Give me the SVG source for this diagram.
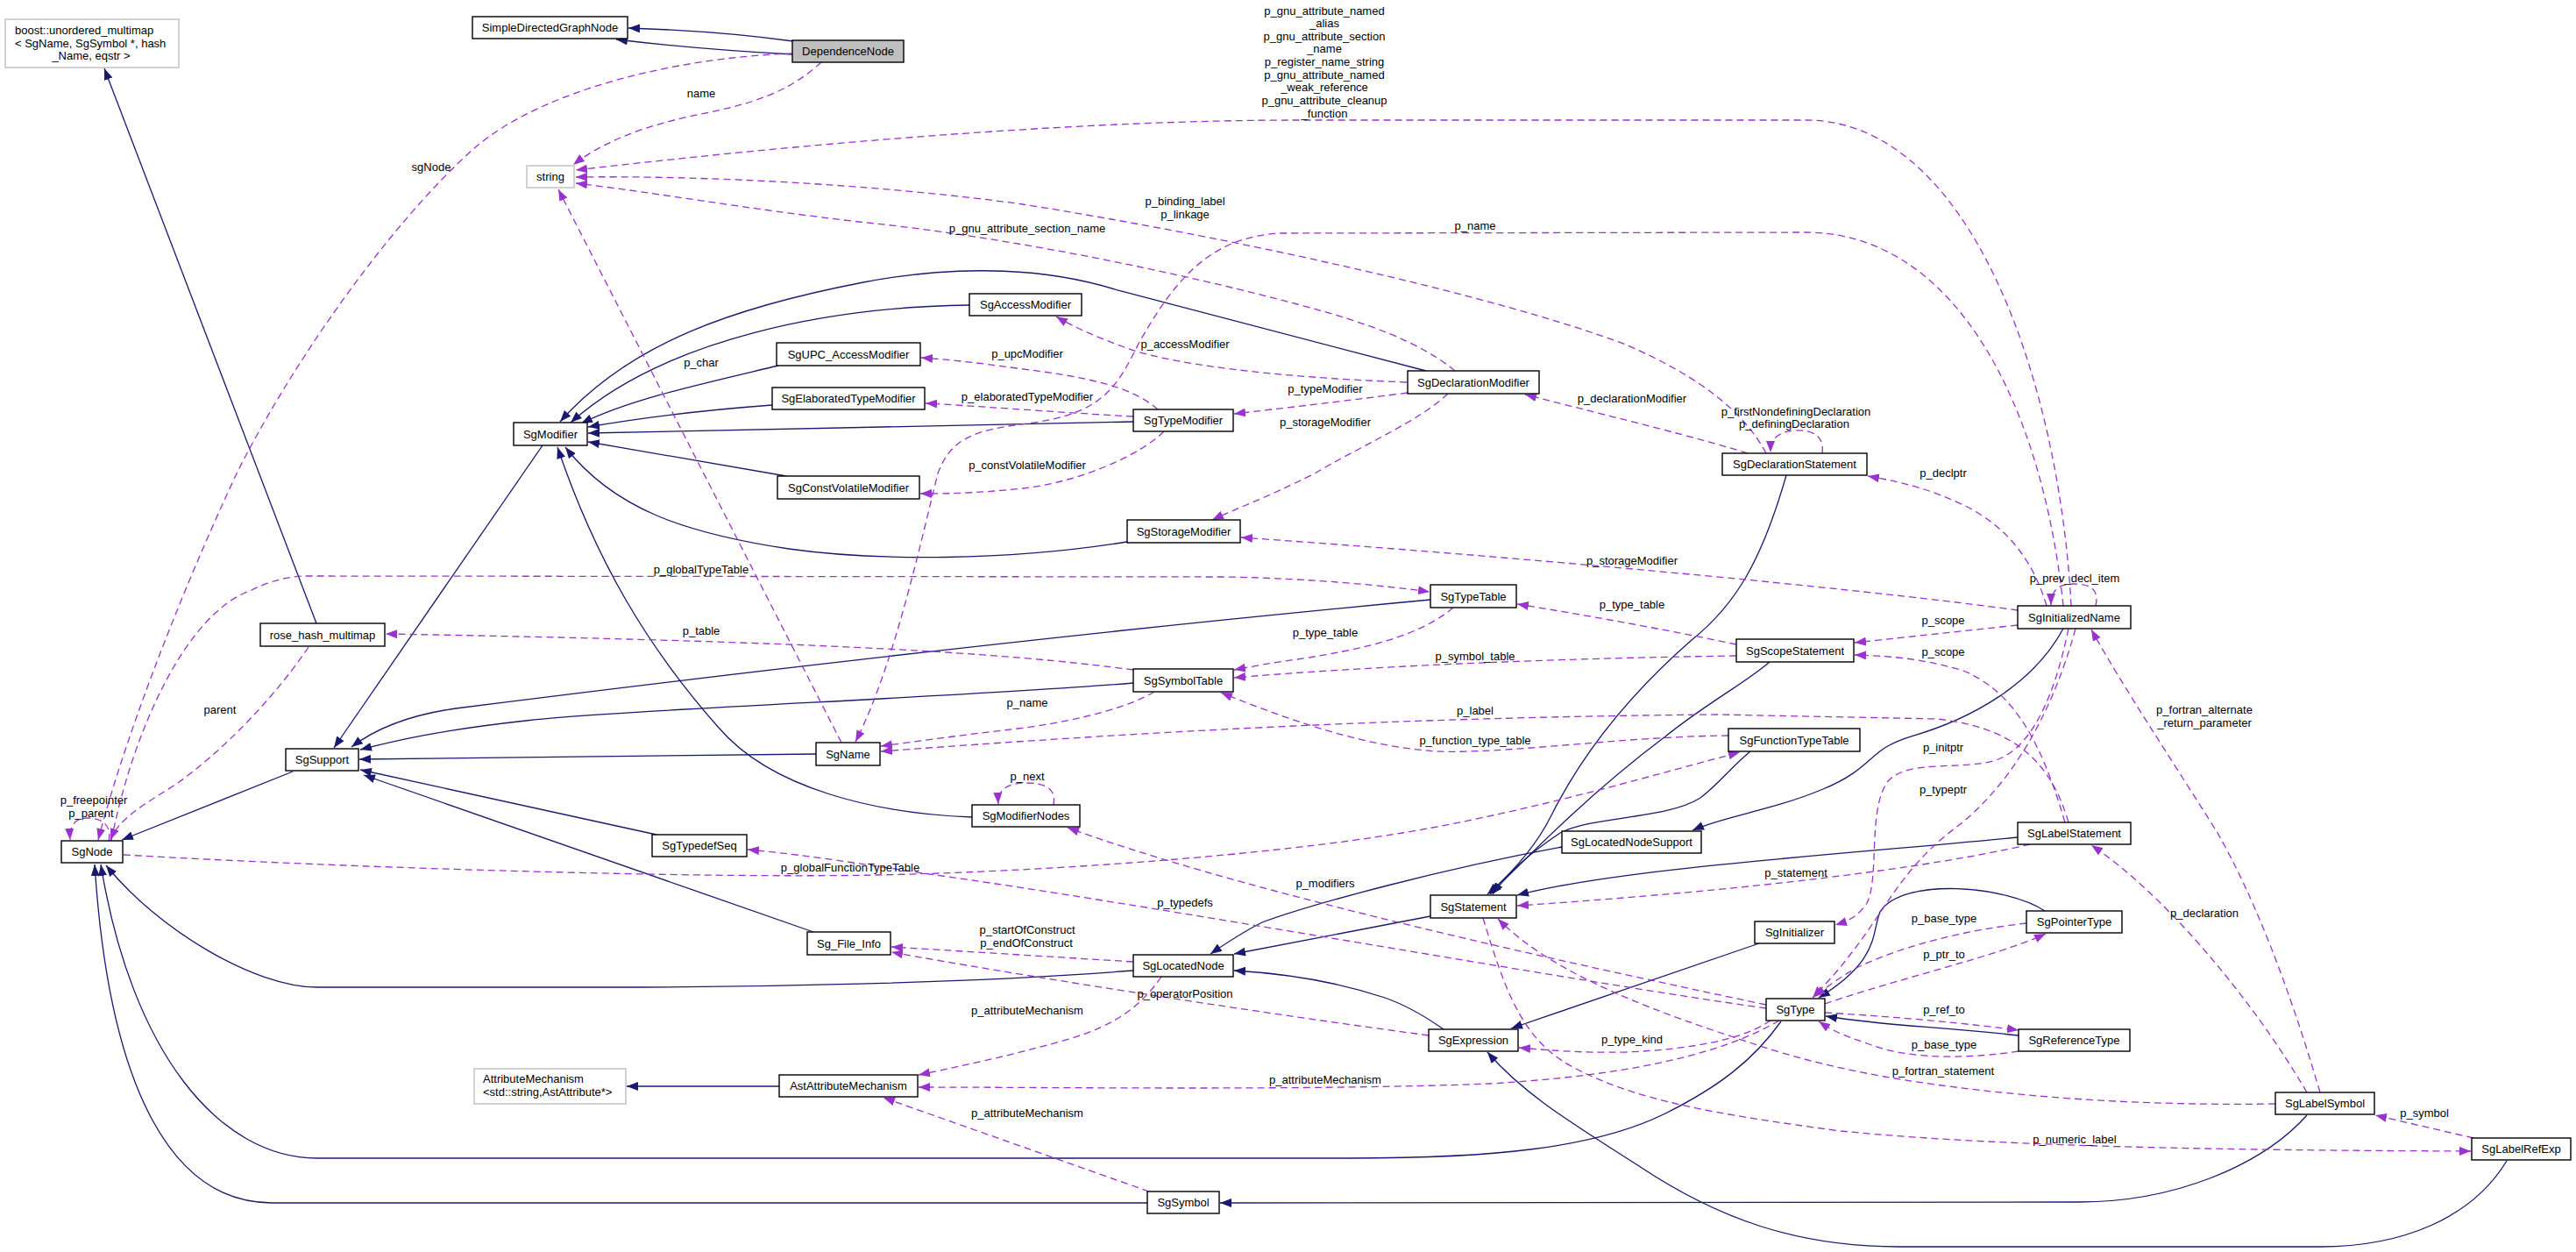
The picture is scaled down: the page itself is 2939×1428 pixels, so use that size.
<svg xmlns="http://www.w3.org/2000/svg" width="2939" height="1428" viewBox="0 0 2939 1428">
<defs>
<marker id="an" markerUnits="userSpaceOnUse" markerWidth="13" markerHeight="10" viewBox="0 0 13 10" refX="13" refY="5" orient="auto"><path d="M0,0 L13,5 L0,10 z" fill="#191970"/></marker>
<marker id="ap" markerUnits="userSpaceOnUse" markerWidth="13" markerHeight="10" viewBox="0 0 13 10" refX="13" refY="5" orient="auto"><path d="M0,0 L13,5 L0,10 z" fill="#9a32cd"/></marker>
</defs>
<style>
text{font-family:"Liberation Sans",Arial,Helvetica,sans-serif;font-size:13px;fill:#000}
.t{text-anchor:middle}
.n rect{fill:#fff;stroke:#000;stroke-width:1.4}
.g rect{fill:#fff;stroke:#bfbfbf;stroke-width:1.4}
.cur rect{fill:#bfbfbf;stroke:#000;stroke-width:1.4}
.inh{fill:none;stroke:#191970;stroke-width:1.3;marker-end:url(#an)}
.ref{fill:none;stroke:#9a32cd;stroke-width:1.3;stroke-dasharray:8,5;marker-end:url(#ap)}
</style>
<rect x="0" y="0" width="2939" height="1428" fill="#fff"/>
<g id="edges">
<path class="inh" d="M905,47 C840,38 780,34 717,32"/>
<path class="inh" d="M904,62 C830,58 770,53 703,45"/>
<path class="inh" d="M361,711 L119,78"/>
<path class="inh" d="M619,508 L381,853"/>
<path class="inh" d="M1627,423 L1275,331 C1200,307 1100,300 985,322 C840,350 720,390 639,481"/>
<path class="inh" d="M1106,348 C950,350 760,385 651,482"/>
<path class="inh" d="M888,417 C800,438 720,455 663,483"/>
<path class="inh" d="M881,462 C800,468 740,475 671,487"/>
<path class="inh" d="M1293,481 C1100,485 900,489 671,494"/>
<path class="inh" d="M897,543 L671,504"/>
<path class="inh" d="M1286,618 C1150,640 1000,640 900,626 C780,608 700,580 645,510"/>
<path class="inh" d="M1109,932 C1000,928 880,900 820,830 C740,740 680,640 636,510"/>
<path class="inh" d="M1632,684 C1300,715 900,760 520,808 C470,815 430,830 401,852"/>
<path class="inh" d="M1293,779 C1100,795 700,810 600,822 C500,833 450,845 411,855"/>
<path class="inh" d="M931,860 L410,866"/>
<path class="inh" d="M749,952 L411,878"/>
<path class="inh" d="M928,1063 L415,884"/>
<path class="inh" d="M334,880 L139,958"/>
<path class="inh" d="M1293,1107 C1100,1122 850,1126 700,1126 L362,1126 C290,1126 180,1060 121,987"/>
<path class="inh" d="M2032,1165 C2000,1210 1960,1240 1900,1270 C1820,1310 1700,1321 1540,1321 L362,1321 C250,1321 150,1200 115,986"/>
<path class="inh" d="M1309,1372 L310,1372 C200,1372 125,1250 108,986"/>
<path class="inh" d="M2632,1272 C2580,1330 2480,1371 2372,1371 L1392,1372"/>
<path class="inh" d="M2860,1324 C2820,1390 2740,1422 2647,1422 L2166,1422 C2050,1422 1960,1390 1870,1330 C1800,1285 1740,1250 1697,1200"/>
<path class="inh" d="M1782,966 C1650,990 1500,1030 1440,1052 C1420,1062 1400,1075 1381,1088"/>
<path class="inh" d="M1632,1045 L1408,1088"/>
<path class="inh" d="M1647,1174 C1620,1155 1600,1145 1580,1138 C1520,1118 1460,1110 1408,1107"/>
<path class="inh" d="M2007,1076 L1724,1173"/>
<path class="inh" d="M2038,542 C2010,640 1980,690 1930,730 C1850,800 1800,870 1770,930 C1750,970 1720,1000 1697,1020"/>
<path class="inh" d="M2019,755 C1990,780 1950,800 1900,840 C1820,900 1760,960 1700,1020"/>
<path class="inh" d="M1997,857 C1975,875 1960,895 1940,910 C1900,935 1820,930 1780,950 C1750,970 1720,995 1703,1020"/>
<path class="inh" d="M2302,955 C2100,975 1850,990 1731,1021"/>
<path class="inh" d="M2354,717 C2320,780 2250,820 2180,840 C2130,855 2140,875 2080,900 C2020,925 1970,930 1931,947"/>
<path class="inh" d="M2333,1039 C2290,1010 2170,1000 2145,1040 C2135,1065 2145,1095 2075,1138"/>
<path class="inh" d="M2303,1181 C2200,1170 2150,1170 2083,1159"/>
<path class="inh" d="M889,1239 L715,1239"/>
<path class="ref" d="M937,71 C900,105 860,118 800,130 C740,142 690,160 654,188"/>
<path class="ref" d="M904,61 C780,65 620,100 540,170 C440,260 330,420 270,540 C200,690 140,850 112,958"/>
<path class="ref" d="M2363,691 C2350,440 2250,137 2060,137 L1480,137 C1250,137 950,160 657,194"/>
<path class="ref" d="M2015,517 C1990,470 1940,430 1855,393 C1700,335 1400,270 1167,233 C1000,210 800,200 657,202"/>
<path class="ref" d="M1660,423 C1620,390 1560,368 1480,347 C1350,312 1150,270 980,253 C850,238 750,220 657,209"/>
<path class="ref" d="M960,847 L637,216"/>
<path class="ref" d="M1605,436 C1450,430 1330,415 1280,395 C1240,380 1220,370 1205,361"/>
<path class="ref" d="M1321,467 C1290,440 1240,430 1160,420 C1110,413 1080,410 1051,408"/>
<path class="ref" d="M1293,475 C1200,470 1100,462 1056,460"/>
<path class="ref" d="M1606,448 C1530,458 1460,466 1408,472"/>
<path class="ref" d="M1328,492 C1300,520 1230,550 1167,557 C1110,563 1080,563 1050,563"/>
<path class="ref" d="M1652,449 C1620,480 1550,510 1500,540 C1440,570 1410,580 1383,593"/>
<path class="ref" d="M1994,517 C1940,500 1850,478 1740,450"/>
<path class="ref" d="M2079,517 C2082,495 2065,490 2047,491 C2030,492 2020,500 2020,516"/>
<path class="ref" d="M2335,691 C2320,640 2290,600 2240,576 C2200,557 2170,550 2131,543"/>
<path class="ref" d="M2391,691 C2395,672 2385,666 2366,666 C2350,666 2340,672 2340,690"/>
<path class="ref" d="M2354,691 C2330,460 2230,265 2060,265 L1461,266 C1380,270 1340,320 1300,390 C1275,440 1260,470 1180,482 C1110,490 1085,500 1070,540 C1050,620 1020,760 976,846"/>
<path class="ref" d="M2302,696 C2150,675 1800,640 1416,613"/>
<path class="ref" d="M2302,713 L2116,733"/>
<path class="ref" d="M2356,938 C2330,850 2300,790 2240,765 C2190,750 2150,748 2116,747"/>
<path class="ref" d="M1981,735 C1900,718 1800,700 1731,689"/>
<path class="ref" d="M1981,748 C1700,752 1500,765 1408,773"/>
<path class="ref" d="M127,959 C150,840 210,700 287,673 C310,662 330,657 350,657 L1400,658 C1500,660 1580,668 1631,675"/>
<path class="ref" d="M1293,764 C1150,745 950,732 440,723"/>
<path class="ref" d="M1658,693 C1620,725 1560,740 1480,752 C1450,756 1430,760 1408,764"/>
<path class="ref" d="M1317,789 C1290,805 1240,820 1170,830 C1100,838 1050,845 1005,851"/>
<path class="ref" d="M2360,938 C2340,870 2300,830 2210,820 L1960,815 C1600,818 1300,835 1005,857"/>
<path class="ref" d="M1972,839 C1850,840 1720,860 1640,857 C1560,852 1480,825 1393,790"/>
<path class="ref" d="M1202,918 C1206,898 1190,893 1171,893 C1150,893 1138,900 1139,917"/>
<path class="ref" d="M141,975 C400,990 800,1002 1000,998 C1200,994 1450,975 1600,950 C1750,925 1900,880 1985,858"/>
<path class="ref" d="M2015,1150 C1800,1120 1300,1030 1060,997 C980,985 920,975 853,969"/>
<path class="ref" d="M2015,1146 C1700,1080 1400,1010 1218,944"/>
<path class="ref" d="M2020,1164 C1990,1185 1930,1197 1855,1200 C1800,1201 1770,1198 1733,1195"/>
<path class="ref" d="M2030,1164 C1960,1205 1850,1227 1700,1236 C1500,1244 1200,1240 1048,1240"/>
<path class="ref" d="M1325,1114 C1300,1150 1270,1170 1220,1185 C1150,1205 1100,1215 1048,1226"/>
<path class="ref" d="M1311,1359 L1008,1252"/>
<path class="ref" d="M1293,1097 L1017,1080"/>
<path class="ref" d="M1630,1181 C1400,1150 1150,1110 1017,1086"/>
<path class="ref" d="M2596,1259 C2400,1262 2250,1245 2150,1228 C2050,1210 2000,1190 1960,1177 C1850,1140 1760,1100 1709,1048"/>
<path class="ref" d="M1692,1047 C1720,1140 1740,1190 1800,1220 C1870,1255 1950,1270 2100,1290 C2300,1310 2600,1312 2819,1313"/>
<path class="ref" d="M2316,963 C2200,990 2000,1015 1731,1033"/>
<path class="ref" d="M2360,717 C2345,790 2320,850 2280,866 C2240,880 2180,865 2155,890 C2130,920 2145,1000 2130,1030 C2120,1045 2110,1050 2094,1055"/>
<path class="ref" d="M2368,717 C2340,820 2290,900 2230,945 C2170,990 2150,1040 2110,1090 C2095,1110 2080,1125 2068,1138"/>
<path class="ref" d="M2312,1053 C2250,1060 2180,1075 2120,1103 C2100,1114 2085,1125 2070,1137"/>
<path class="ref" d="M2082,1145 C2170,1115 2280,1090 2334,1065"/>
<path class="ref" d="M2082,1155 C2170,1160 2250,1168 2303,1175"/>
<path class="ref" d="M2303,1199 C2250,1207 2180,1210 2130,1190 C2100,1180 2090,1175 2075,1165"/>
<path class="ref" d="M2632,1246 C2570,1140 2470,1020 2386,964"/>
<path class="ref" d="M2647,1246 C2610,1120 2570,1020 2530,950 C2480,870 2420,780 2386,718"/>
<path class="ref" d="M2822,1298 L2710,1272"/>
<path class="ref" d="M352,738 C310,800 250,860 200,895 C160,920 135,935 126,958"/>
<path class="ref" d="M124,959 C128,940 115,933 100,933 C85,933 79,942 80,958"/>
</g>
<g id="edge-labels">
<text class="t" x="800" y="111">name</text>
<text class="t" x="492" y="195">sgNode</text>
<text class="t" x="1511" y="16.5">p_gnu_attribute_named</text>
<text class="t" x="1511" y="31">_alias</text>
<text class="t" x="1511" y="45.5">p_gnu_attribute_section</text>
<text class="t" x="1511" y="60">_name</text>
<text class="t" x="1511" y="75">p_register_name_string</text>
<text class="t" x="1511" y="89.5">p_gnu_attribute_named</text>
<text class="t" x="1511" y="104">_weak_reference</text>
<text class="t" x="1511" y="119">p_gnu_attribute_cleanup</text>
<text class="t" x="1511" y="133.5">_function</text>
<text class="t" x="1352" y="233.5">p_binding_label</text>
<text class="t" x="1352" y="248.5">p_linkage</text>
<text class="t" x="1172" y="264.5">p_gnu_attribute_section_name</text>
<text class="t" x="1683" y="261.5">p_name</text>
<text class="t" x="800" y="417.5">p_char</text>
<text class="t" x="1352" y="396.5">p_accessModifier</text>
<text class="t" x="1172" y="407.5">p_upcModifier</text>
<text class="t" x="1512" y="447.5">p_typeModifier</text>
<text class="t" x="1172" y="456.5">p_elaboratedTypeModifier</text>
<text class="t" x="1862" y="458.5">p_declarationModifier</text>
<text class="t" x="2049" y="473.5">p_firstNondefiningDeclaration</text>
<text class="t" x="2047" y="487.5">p_definingDeclaration</text>
<text class="t" x="1512" y="485.5">p_storageModifier</text>
<text class="t" x="1172" y="534.5">p_constVolatileModifier</text>
<text class="t" x="2217" y="543.5">p_declptr</text>
<text class="t" x="1862" y="643.5">p_storageModifier</text>
<text class="t" x="800" y="653.5">p_globalTypeTable</text>
<text class="t" x="2367" y="663.5">p_prev_decl_item</text>
<text class="t" x="1862" y="693.5">p_type_table</text>
<text class="t" x="2217" y="711.5">p_scope</text>
<text class="t" x="800" y="723.5">p_table</text>
<text class="t" x="1512" y="725.5">p_type_table</text>
<text class="t" x="2217" y="747.5">p_scope</text>
<text class="t" x="1683" y="752.5">p_symbol_table</text>
<text class="t" x="1172" y="805.5">p_name</text>
<text class="t" x="1683" y="814.5">p_label</text>
<text class="t" x="251" y="813.5">parent</text>
<text class="t" x="2515" y="813.5">p_fortran_alternate</text>
<text class="t" x="2515" y="828.5">_return_parameter</text>
<text class="t" x="1683" y="848.5">p_function_type_table</text>
<text class="t" x="2217" y="856.5">p_initptr</text>
<text class="t" x="1172" y="889.5">p_next</text>
<text class="t" x="2217" y="904.5">p_typeptr</text>
<text class="t" x="107" y="916.5">p_freepointer</text>
<text class="t" x="104" y="931.5">p_parent</text>
<text class="t" x="970" y="993.5">p_globalFunctionTypeTable</text>
<text class="t" x="2049" y="999.5">p_statement</text>
<text class="t" x="1512" y="1011.5">p_modifiers</text>
<text class="t" x="1352" y="1033.5">p_typedefs</text>
<text class="t" x="2515" y="1045.5">p_declaration</text>
<text class="t" x="2218" y="1051.5">p_base_type</text>
<text class="t" x="1172" y="1064.5">p_startOfConstruct</text>
<text class="t" x="1171" y="1079.5">p_endOfConstruct</text>
<text class="t" x="2218" y="1092.5">p_ptr_to</text>
<text class="t" x="1352" y="1137.5">p_operatorPosition</text>
<text class="t" x="2218" y="1155.5">p_ref_to</text>
<text class="t" x="1172" y="1156.5">p_attributeMechanism</text>
<text class="t" x="1862" y="1189.5">p_type_kind</text>
<text class="t" x="2218" y="1195.5">p_base_type</text>
<text class="t" x="2217" y="1225.5">p_fortran_statement</text>
<text class="t" x="1512" y="1235.5">p_attributeMechanism</text>
<text class="t" x="1172" y="1273.5">p_attributeMechanism</text>
<text class="t" x="2766" y="1273.5">p_symbol</text>
<text class="t" x="2367" y="1303.5">p_numeric_label</text>
</g>
<g id="n-SimpleDirectedGraphNode" class="n"><rect x="539" y="19" width="177" height="25"/><text class="t" x="627.5" y="36">SimpleDirectedGraphNode</text></g>
<g id="n-DependenceNode" class="cur"><rect x="904" y="46" width="127" height="25"/><text class="t" x="967.5" y="63">DependenceNode</text></g>
<g id="n-boost" class="g"><rect x="6" y="22" width="198" height="55"/><text x="17" y="38.5">boost::unordered_multimap</text><text x="17" y="53.5">&lt; SgName, SgSymbol *, hash</text><text class="t" x="104" y="67.5">_Name, eqstr &gt;</text></g>
<g id="n-string" class="g"><rect x="601" y="189" width="54" height="25"/><text class="t" x="628" y="206">string</text></g>
<g id="n-SgModifier" class="n"><rect x="586" y="482" width="84" height="26"/><text class="t" x="628" y="499.5">SgModifier</text></g>
<g id="n-SgAccessModifier" class="n"><rect x="1106" y="335" width="128" height="25"/><text class="t" x="1170" y="352">SgAccessModifier</text></g>
<g id="n-SgUPC_AccessModifier" class="n"><rect x="886" y="391" width="164" height="26"/><text class="t" x="968" y="408.5">SgUPC_AccessModifier</text></g>
<g id="n-SgElaboratedTypeModifier" class="n"><rect x="881" y="442" width="174" height="25"/><text class="t" x="968" y="459">SgElaboratedTypeModifier</text></g>
<g id="n-SgTypeModifier" class="n"><rect x="1293" y="467" width="114" height="25"/><text class="t" x="1350" y="484">SgTypeModifier</text></g>
<g id="n-SgConstVolatileModifier" class="n"><rect x="887" y="543" width="162" height="26"/><text class="t" x="968" y="560.5">SgConstVolatileModifier</text></g>
<g id="n-SgStorageModifier" class="n"><rect x="1286" y="593" width="129" height="26"/><text class="t" x="1350.5" y="610.5">SgStorageModifier</text></g>
<g id="n-SgDeclarationModifier" class="n"><rect x="1606" y="423" width="150" height="26"/><text class="t" x="1681" y="440.5">SgDeclarationModifier</text></g>
<g id="n-SgDeclarationStatement" class="n"><rect x="1965" y="517" width="165" height="25"/><text class="t" x="2047.5" y="534">SgDeclarationStatement</text></g>
<g id="n-SgInitializedName" class="n"><rect x="2302" y="691" width="129" height="26"/><text class="t" x="2366.5" y="708.5">SgInitializedName</text></g>
<g id="n-SgScopeStatement" class="n"><rect x="1981" y="729" width="134" height="26"/><text class="t" x="2048" y="746.5">SgScopeStatement</text></g>
<g id="n-SgTypeTable" class="n"><rect x="1632" y="667" width="98" height="26"/><text class="t" x="1681" y="684.5">SgTypeTable</text></g>
<g id="n-SgSymbolTable" class="n"><rect x="1293" y="763" width="114" height="26"/><text class="t" x="1350" y="780.5">SgSymbolTable</text></g>
<g id="n-rose_hash_multimap" class="n"><rect x="297" y="711" width="142" height="26"/><text class="t" x="368" y="728.5">rose_hash_multimap</text></g>
<g id="n-SgSupport" class="n"><rect x="326" y="854" width="83" height="25"/><text class="t" x="367.5" y="871">SgSupport</text></g>
<g id="n-SgName" class="n"><rect x="931" y="847" width="73" height="26"/><text class="t" x="967.5" y="864.5">SgName</text></g>
<g id="n-SgFunctionTypeTable" class="n"><rect x="1972" y="831" width="150" height="26"/><text class="t" x="2047" y="848.5">SgFunctionTypeTable</text></g>
<g id="n-SgModifierNodes" class="n"><rect x="1109" y="918" width="123" height="25"/><text class="t" x="1170.5" y="935">SgModifierNodes</text></g>
<g id="n-SgLocatedNodeSupport" class="n"><rect x="1782" y="948" width="159" height="25"/><text class="t" x="1861.5" y="965">SgLocatedNodeSupport</text></g>
<g id="n-SgLabelStatement" class="n"><rect x="2302" y="938" width="129" height="25"/><text class="t" x="2366.5" y="955">SgLabelStatement</text></g>
<g id="n-SgTypedefSeq" class="n"><rect x="744" y="952" width="108" height="25"/><text class="t" x="798" y="969">SgTypedefSeq</text></g>
<g id="n-SgNode" class="n"><rect x="70" y="959" width="70" height="25"/><text class="t" x="105" y="976">SgNode</text></g>
<g id="n-SgStatement" class="n"><rect x="1632" y="1021" width="98" height="26"/><text class="t" x="1681" y="1038.5">SgStatement</text></g>
<g id="n-SgLocatedNode" class="n"><rect x="1293" y="1089" width="114" height="25"/><text class="t" x="1350" y="1106">SgLocatedNode</text></g>
<g id="n-Sg_File_Info" class="n"><rect x="921" y="1063" width="95" height="26"/><text class="t" x="968.5" y="1080.5">Sg_File_Info</text></g>
<g id="n-SgInitializer" class="n"><rect x="2002" y="1051" width="91" height="25"/><text class="t" x="2047.5" y="1068">SgInitializer</text></g>
<g id="n-SgPointerType" class="n"><rect x="2312" y="1039" width="109" height="25"/><text class="t" x="2366.5" y="1056">SgPointerType</text></g>
<g id="n-SgType" class="n"><rect x="2015" y="1139" width="67" height="25"/><text class="t" x="2048.5" y="1156">SgType</text></g>
<g id="n-SgReferenceType" class="n"><rect x="2303" y="1174" width="127" height="25"/><text class="t" x="2366.5" y="1191">SgReferenceType</text></g>
<g id="n-SgExpression" class="n"><rect x="1630" y="1174" width="102" height="25"/><text class="t" x="1681" y="1191">SgExpression</text></g>
<g id="n-AttributeMechanism" class="g"><rect x="541" y="1219" width="173" height="40"/><text x="551" y="1234.5">AttributeMechanism</text><text x="551" y="1249.5">&lt;std::string,AstAttribute*&gt;</text></g>
<g id="n-AstAttributeMechanism" class="n"><rect x="889" y="1226" width="158" height="25"/><text class="t" x="968" y="1243">AstAttributeMechanism</text></g>
<g id="n-SgLabelSymbol" class="n"><rect x="2596" y="1246" width="113" height="25"/><text class="t" x="2652.5" y="1263">SgLabelSymbol</text></g>
<g id="n-SgLabelRefExp" class="n"><rect x="2820" y="1298" width="113" height="25"/><text class="t" x="2876.5" y="1315">SgLabelRefExp</text></g>
<g id="n-SgSymbol" class="n"><rect x="1309" y="1359" width="82" height="25"/><text class="t" x="1350" y="1376">SgSymbol</text></g>
</svg>
